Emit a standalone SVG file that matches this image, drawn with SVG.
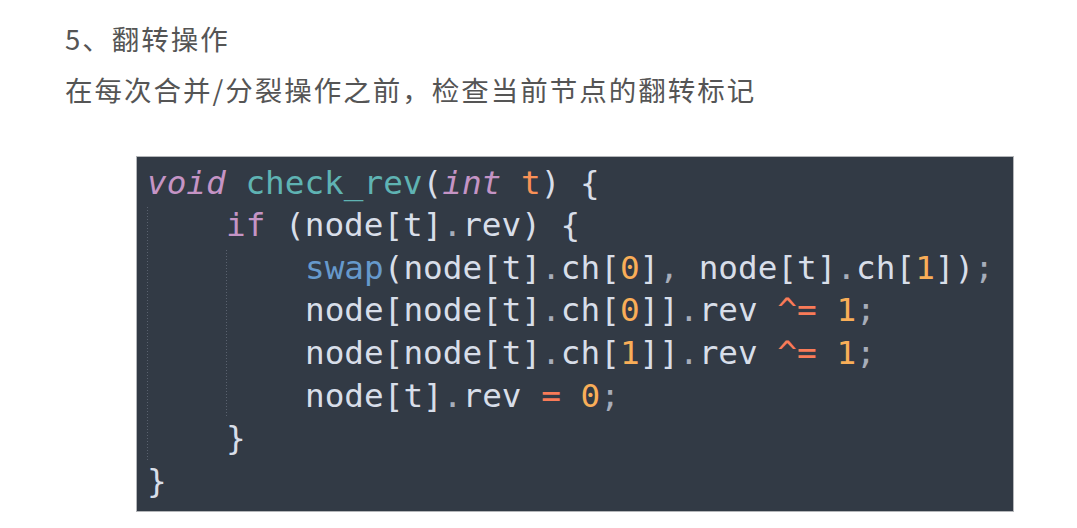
<svg xmlns="http://www.w3.org/2000/svg" width="1077" height="528" viewBox="0 0 1077 528">
<style>
.h{font-family:"Noto Sans CJK SC","Noto Sans",sans-serif;font-size:27.5px;fill:#555;letter-spacing:2px}
.c{font-family:"DejaVu Sans Mono","Liberation Mono",monospace;font-size:32.7px;fill:#d8dee9}
.k{fill:#c594c5;font-style:italic}
.kw{fill:#c594c5}
.fn{fill:#5fb3b3}
.pr{fill:#f99157}
.bl{fill:#6699cc}
.n{fill:#f9ae58}
.op{fill:#f97b58}
.p{fill:#a7adba}
.g{stroke:#59616e;stroke-width:1;stroke-dasharray:1 2}
</style>
<rect width="1077" height="528" fill="#ffffff"/>
<g id="heading">
<text class="h" x="65" y="50">5、翻转操作</text>
<text class="h" x="65" y="101">在每次合并/分裂操作之前，检查当前节点的翻转标记</text>
</g>
<g id="codeblock">
<rect x="136.5" y="156.5" width="877" height="355" fill="#323a45" stroke="#b4b6b9" stroke-width="1"/>
<line class="g" x1="147.5" y1="207" x2="147.5" y2="460"/>
<line class="g" x1="226.5" y1="250" x2="226.5" y2="417"/>
<text class="c" xml:space="preserve"><tspan x="147" y="193.5"><tspan class="k">void</tspan> <tspan class="fn">check_rev</tspan>(<tspan class="k">int</tspan> <tspan class="pr">t</tspan>) {</tspan></text>
<text class="c" xml:space="preserve"><tspan x="226" y="236.1"><tspan class="kw">if</tspan> (node[t]<tspan class="p">.</tspan>rev) {</tspan></text>
<text class="c" xml:space="preserve"><tspan x="305" y="278.7"><tspan class="bl">swap</tspan>(node[t]<tspan class="p">.</tspan>ch[<tspan class="n">0</tspan>]<tspan class="p">,</tspan> node[t]<tspan class="p">.</tspan>ch[<tspan class="n">1</tspan>])<tspan class="p">;</tspan></tspan></text>
<text class="c" xml:space="preserve"><tspan x="305" y="321.3">node[node[t]<tspan class="p">.</tspan>ch[<tspan class="n">0</tspan>]]<tspan class="p">.</tspan>rev <tspan class="op">^=</tspan> <tspan class="n">1</tspan><tspan class="p">;</tspan></tspan></text>
<text class="c" xml:space="preserve"><tspan x="305" y="363.9">node[node[t]<tspan class="p">.</tspan>ch[<tspan class="n">1</tspan>]]<tspan class="p">.</tspan>rev <tspan class="op">^=</tspan> <tspan class="n">1</tspan><tspan class="p">;</tspan></tspan></text>
<text class="c" xml:space="preserve"><tspan x="305" y="406.5">node[t]<tspan class="p">.</tspan>rev <tspan class="op">=</tspan> <tspan class="n">0</tspan><tspan class="p">;</tspan></tspan></text>
<text class="c"><tspan x="226" y="449.1">}</tspan></text>
<text class="c"><tspan x="147" y="491.7">}</tspan></text>
</g>
</svg>
